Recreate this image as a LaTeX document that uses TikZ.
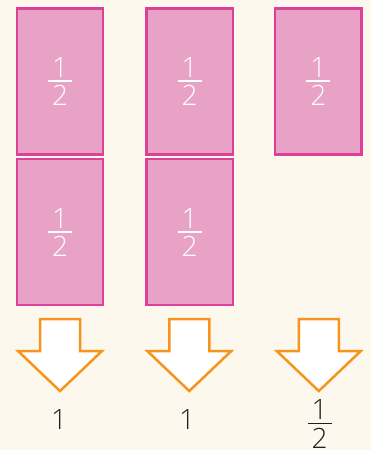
\documentclass[tikz,border=0pt]{standalone}
\usepackage{fontspec}
\setmainfont{Open Sans}[UprightFont={* Light}]

\definecolor{bgcream}{HTML}{FDF8ED}
\definecolor{cardfill}{HTML}{E7A2C6}
\definecolor{cardedge}{HTML}{DE3F98}
\definecolor{arrowedge}{HTML}{F7941D}
\definecolor{inkgray}{HTML}{231F20}

% stacked fraction in the text font
\newcommand{\stackfrac}[2]{\vbox{\hbox to 24pt{\hss#1\hss}\kern3pt
  \hrule height 1.6pt\kern3.4pt\hbox to 24pt{\hss#2\hss}}}

\tikzset{
  halfcard/.style={draw=cardedge, fill=cardfill, line width=2.3pt,
    minimum width=86.3pt, minimum height=146pt, inner sep=0pt,
    text=white, font=\fontsize{28}{30}\selectfont},
  sumlabel/.style={inner sep=0pt, text=inkgray, font=\fontsize{28}{30}\selectfont},
  downarrow/.pic={
    \draw[draw=arrowedge, fill=white, line width=2.5pt]
      (-20,0) -- (20,0) -- (20,32) -- (42,32) -- (0,72) -- (-42,32) -- (-20,32) -- cycle;
  }
}

\begin{document}
\begin{tikzpicture}[x=1pt, y=-1pt]
		\useasboundingbox[fill=bgcream] (0,0) rectangle (371,450);

		% halves
		\node[halfcard] (c1a) at (60, 81.5) {\stackfrac{1}{2}};
		\node[halfcard] (c1b) at (60, 232.3) {\stackfrac{1}{2}};
		\node[halfcard] (c2a) at (189.5, 81.5) {\stackfrac{1}{2}};
		\node[halfcard] (c2b) at (189.5, 232.3) {\stackfrac{1}{2}};
		\node[halfcard] (c3a) at (318.4, 81.5) {\stackfrac{1}{2}};

		% arrows and sums
		\pic (a1) at (60, 319) {downarrow};
		\pic (a2) at (189.3, 319) {downarrow};
		\pic (a3) at (318.8, 319) {downarrow};
		\node[sumlabel] (s1) at (59, 419.7) {1};
		\node[sumlabel] (s2) at (187, 419.7) {1};
		\node[sumlabel] (s3) at (319.5, 424) {\stackfrac{1}{2}};
	\end{tikzpicture}
\end{document}
